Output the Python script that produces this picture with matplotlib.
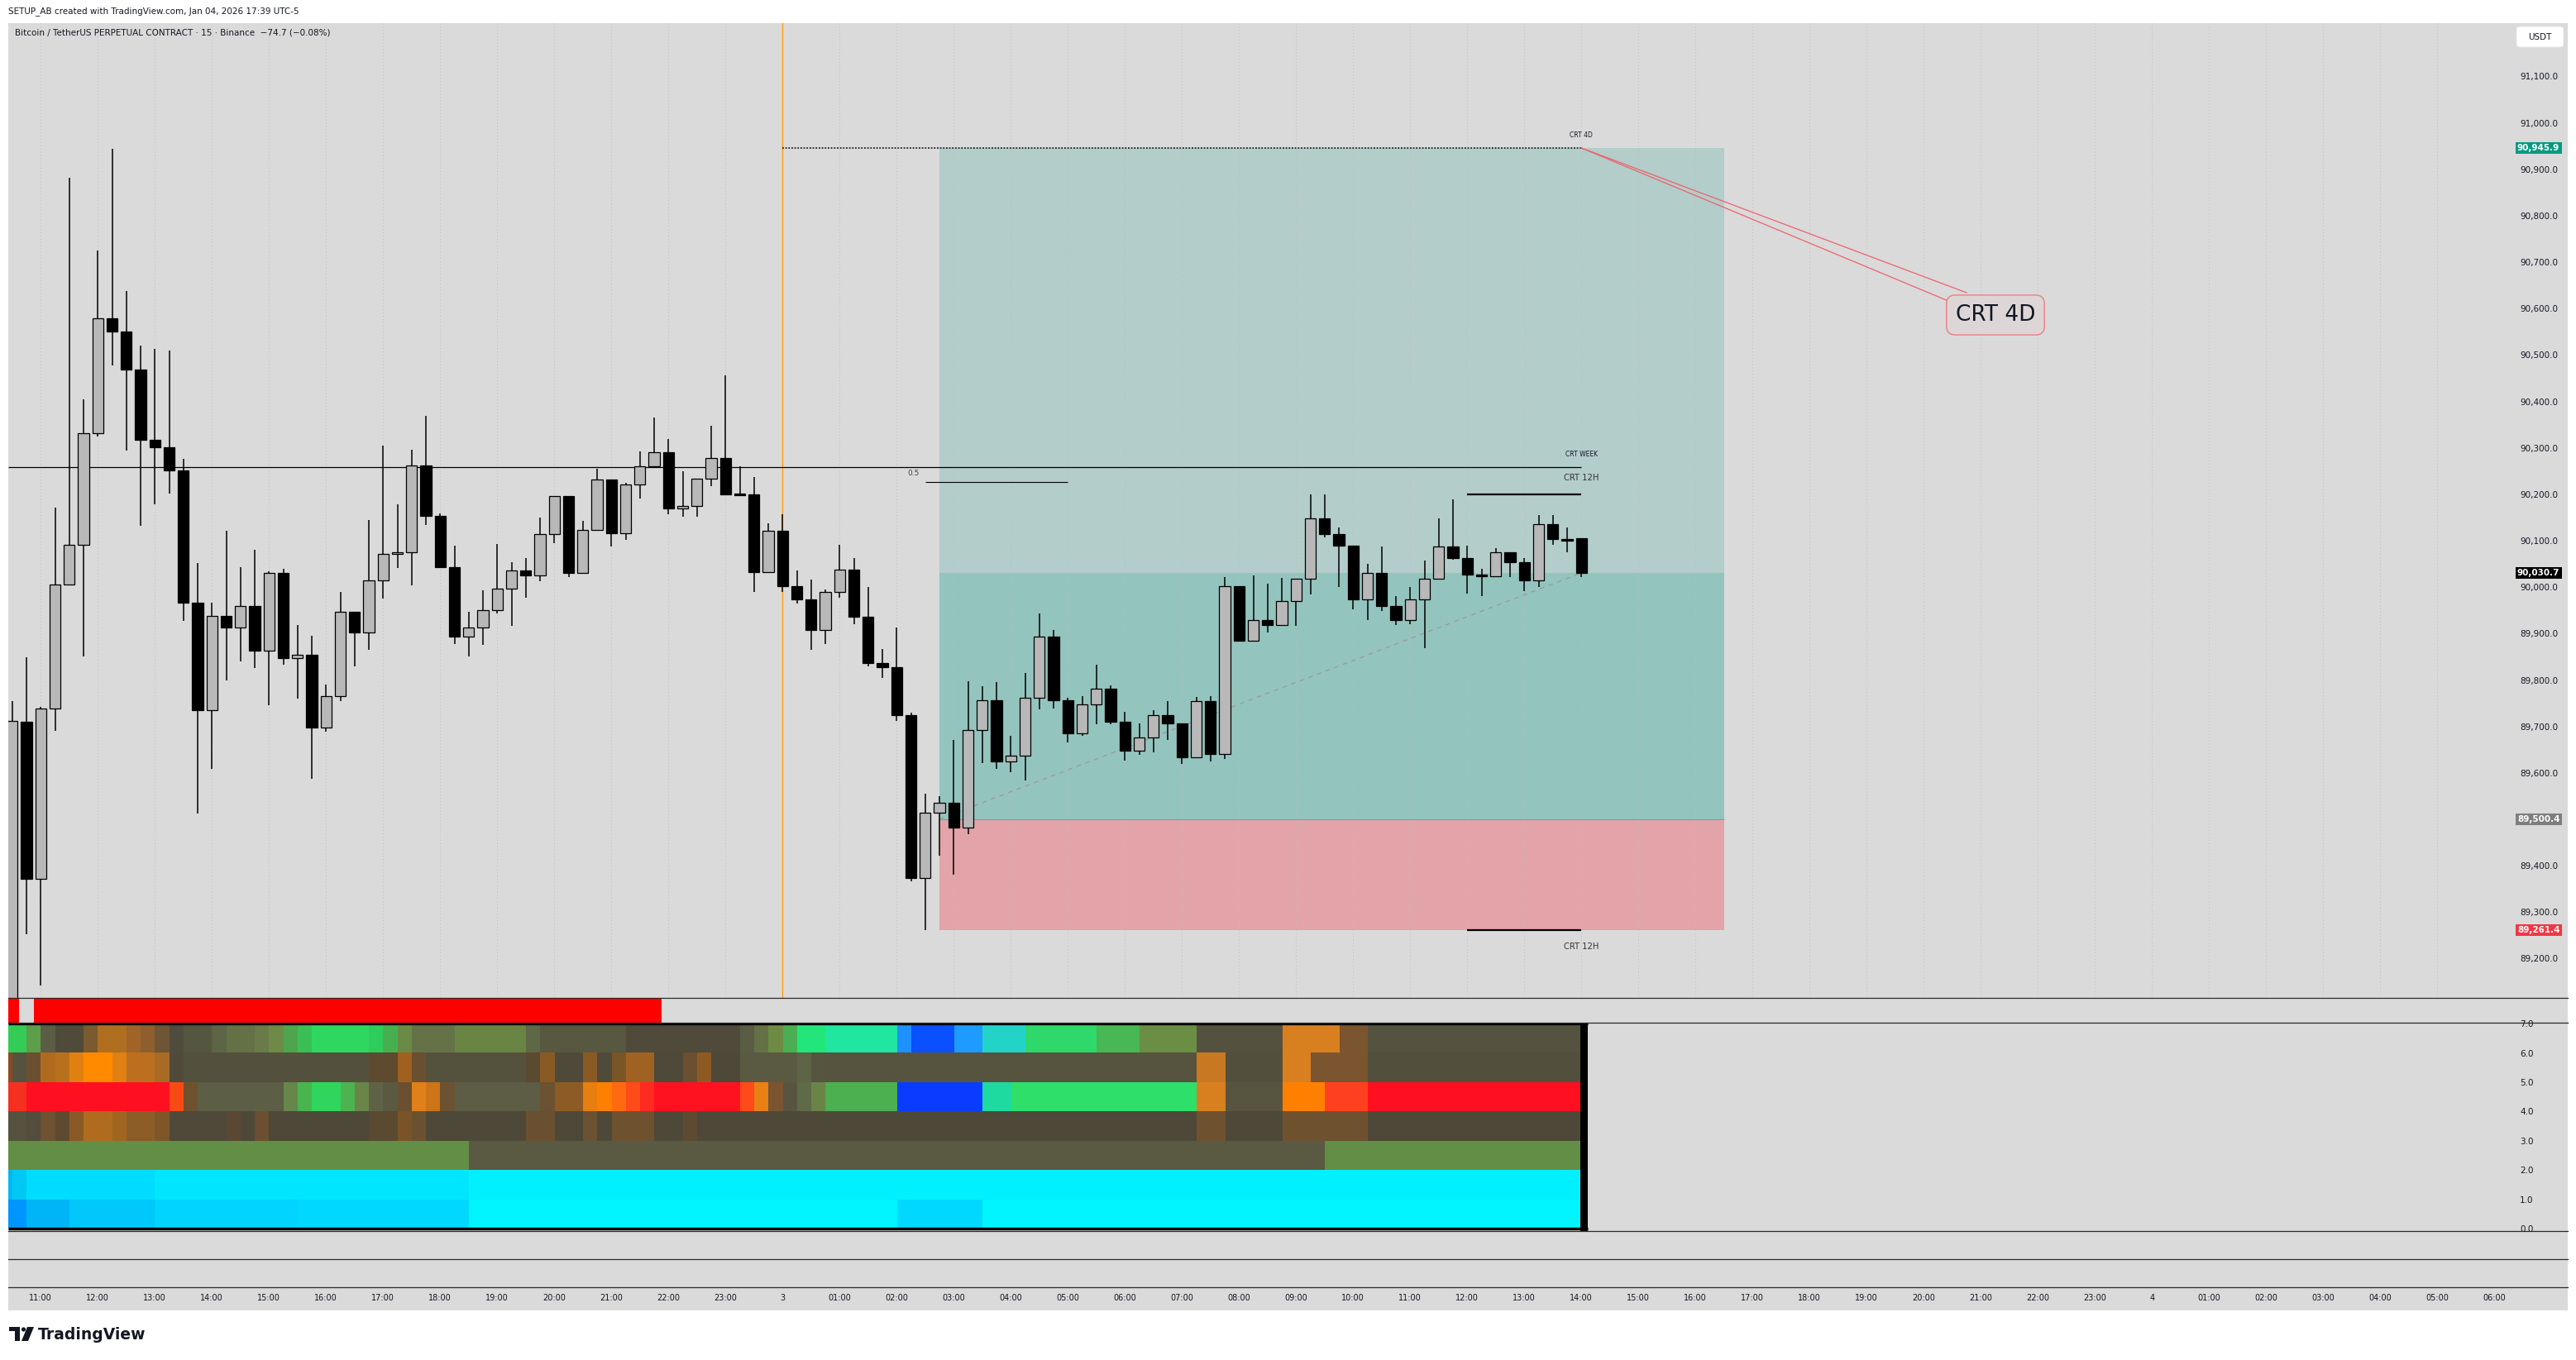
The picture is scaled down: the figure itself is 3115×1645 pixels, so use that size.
import numpy as np
import pandas as pd
import matplotlib
matplotlib.use("Agg")
import matplotlib.pyplot as plt
from matplotlib.patches import Rectangle, Polygon, Circle, FancyBboxPatch
from matplotlib.transforms import blended_transform_factory
from matplotlib.colors import to_rgb

plt.rcParams['font.family'] = ['DejaVu Sans']

# ---------------------------------------------------------------- data
bar_start = "2026-01-02 10:30"
bar_end = "2026-01-03 14:00"

opens = [89100, 89710, 89371, 89738, 90005, 90091, 90332, 90579, 90550, 90468,
         90318, 90301, 90252, 89967, 89735, 89938, 89913, 89959, 89864, 90031,
         89848, 89855, 89698, 89766, 89947, 89902, 90015, 90071, 90076, 90262,
         90154, 90044, 89894, 89914, 89950, 89996, 90036, 90025, 90114, 90196,
         90031, 90123, 90231, 90117, 90221, 90260, 90290, 90170, 90174, 90233,
         90279, 90201, 90199, 90033, 90121, 90003, 89974, 89907, 89989, 90037,
         89937, 89836, 89827, 89725, 89374, 89515, 89535, 89483, 89693, 89756,
         89624, 89638, 89761, 89893, 89756, 89686, 89747, 89781, 89711, 89648,
         89676, 89724, 89706, 89633, 89754, 89640, 90002, 89885, 89929, 89919,
         89971, 90018, 90148, 90115, 90090, 89974, 90030, 89959, 89930, 89973,
         90019, 90087, 90063, 90027, 90023, 90075, 90053, 90014, 90135, 90103,
         90105]
highs = [89754, 89849, 89742, 90171, 90882, 90405, 90725, 90944, 90638, 90521,
         90514, 90510, 90276, 90052, 89966, 90121, 90044, 90081, 90035, 90040,
         89919, 89896, 89790, 89990, 89947, 90145, 90304, 90178, 90296, 90369,
         90158, 90090, 89947, 89993, 90093, 90054, 90063, 90150, 90196, 90196,
         90143, 90255, 90231, 90225, 90293, 90366, 90319, 90250, 90233, 90348,
         90456, 90260, 90237, 90138, 90157, 90036, 90016, 89995, 90091, 90063,
         90001, 89867, 89913, 89729, 89555, 89550, 89671, 89798, 89787, 89796,
         89680, 89815, 89943, 89908, 89761, 89766, 89833, 89789, 89731, 89706,
         89735, 89755, 89706, 89763, 89765, 90022, 90002, 90025, 90008, 90020,
         90019, 90199, 90199, 90128, 90090, 90050, 90088, 89980, 90000, 90057,
         90148, 90189, 90090, 90040, 90084, 90075, 90062, 90155, 90155, 90128,
         90105]
lows = [89050, 89253, 89143, 89690, 90005, 89851, 90324, 90477, 90294, 90132,
        90178, 90202, 89928, 89512, 89608, 89799, 89841, 89826, 89746, 89833,
        89760, 89588, 89688, 89755, 89829, 89865, 89976, 90041, 90004, 90134,
        90044, 89878, 89850, 89875, 89944, 89916, 89978, 90012, 90094, 90022,
        90031, 90123, 90087, 90101, 90191, 90260, 90157, 90151, 90151, 90217,
        90199, 90199, 89990, 90033, 89990, 89964, 89865, 89877, 89977, 89920,
        89830, 89804, 89712, 89366, 89261.4, 89421, 89380, 89468, 89622, 89609,
        89601, 89583, 89736, 89738, 89665, 89680, 89704, 89704, 89627, 89639,
        89645, 89671, 89620, 89633, 89625, 89630, 89882, 89885, 89903, 89919,
        89916, 89985, 90107, 90001, 89953, 89930, 89949, 89919, 89921, 89868,
        90019, 90059, 89987, 89981, 90023, 90021, 89992, 90001, 90092, 90076,
        90021]
closes = [89712, 89371, 89738, 90005, 90091, 90332, 90579, 90550, 90468, 90318,
          90301, 90252, 89967, 89735, 89938, 89913, 89959, 89864, 90031, 89848,
          89855, 89698, 89766, 89947, 89902, 90015, 90071, 90076, 90262, 90154,
          90044, 89894, 89914, 89950, 89996, 90036, 90025, 90114, 90196, 90031,
          90123, 90231, 90117, 90221, 90260, 90290, 90170, 90174, 90233, 90279,
          90199, 90199, 90033, 90121, 90003, 89974, 89907, 89989, 90037, 89937,
          89836, 89827, 89725, 89374, 89515, 89535, 89483, 89693, 89756, 89624,
          89638, 89761, 89893, 89756, 89686, 89747, 89781, 89711, 89648, 89676,
          89724, 89706, 89633, 89754, 89640, 90002, 89885, 89929, 89919, 89971,
          90018, 90148, 90115, 90090, 89974, 90030, 89959, 89930, 89973, 90019,
          90087, 90063, 90027, 90023, 90075, 90053, 90014, 90135, 90103, 90102,
          90030.7]

target_price = 90945.9
entry_price = 89500.4
stop_price = 89261.4
last_price = 90030.7
crt_week_price = 90258.0
half_level_price = 90226.0
crt12h_high = 90200.4
crt12h_low = 89261.4

position_start_h = 2.75     # 02:45 Jan 3
position_end_h = 16.5       # 16:30 Jan 3
crt_start_h = 12.0
crt_end_h = 14.0
half_start_h = 2.5
half_end_h = 5.0

price_ticks = [89200, 89300, 89400, 89500, 89600, 89700, 89800, 89900, 90000, 90100,
               90200, 90300, 90400, 90500, 90600, 90700, 90800, 90900, 91000, 91100]
heat_ticks = [0, 1, 2, 3, 4, 5, 6, 7]

time_tick_hours = [-13, -12, -11, -10, -9, -8, -7, -6, -5, -4, -3, -2, -1, 0,
                   1, 2, 3, 4, 5, 6, 7, 8, 9, 10, 11, 12, 13, 14, 15, 16, 17, 18, 19, 20, 21, 22, 23, 24,
                   25, 26, 27, 28, 29, 30]
time_tick_labels = ["11:00", "12:00", "13:00", "14:00", "15:00", "16:00", "17:00", "18:00", "19:00",
                    "20:00", "21:00", "22:00", "23:00", "3",
                    "01:00", "02:00", "03:00", "04:00", "05:00", "06:00", "07:00", "08:00", "09:00",
                    "10:00", "11:00", "12:00", "13:00", "14:00", "15:00", "16:00", "17:00", "18:00",
                    "19:00", "20:00", "21:00", "22:00", "23:00", "4",
                    "01:00", "02:00", "03:00", "04:00", "05:00", "06:00"]

# indicator pane with the red bar (run-length: count, colour)
red_runs = [(1, "#FF0000"), (1, None), (44, "#FF0000"), (65, None)]

# heatmap rows, top (level 6-7) to bottom (level 0-1), run-length encoded
heat_row6 = [(2, "#33CC55"), (1, "#5C9E4A"), (1, "#5B5E45"), (2, "#4F4A3A"), (1, "#7A5A2F"),
             (2, "#B06E20"), (1, "#A06428"), (1, "#8E5E2E"), (1, "#6E5535"), (1, "#4F4C3E"),
             (2, "#55563F"), (1, "#5E6446"), (2, "#647046"), (1, "#6A7A48"), (1, "#6E8A48"),
             (1, "#4DA64E"), (1, "#3BBF55"), (4, "#2ED85F"), (1, "#2ECC5A"), (1, "#48AF50"),
             (1, "#6B8A45"), (3, "#657247"), (5, "#6A8444"), (1, "#5E6746"), (6, "#57583F"),
             (8, "#4F4A39"), (1, "#5A5C44"), (1, "#647046"), (1, "#6E8B45"), (1, "#4CAE52"),
             (2, "#22E67A"), (5, "#20E6A0"), (1, "#1E90FF"), (3, "#0A50FF"), (2, "#1E9BFF"),
             (3, "#22D4C8"), (5, "#2ED86A"), (3, "#48B854"), (4, "#6B8E45"), (6, "#55513F"),
             (4, "#D88020"), (2, "#7A5530"), (15, "#55533F")]
heat_row5 = [(1, "#8A4A20"), (1, "#55523F"), (1, "#6B5030"), (1, "#B06A1E"), (1, "#B8701C"),
             (1, "#E08010"), (2, "#FF8A00"), (1, "#E07F12"), (2, "#BC6F1F"), (1, "#A86A25"),
             (1, "#4F4A3A"), (13, "#53503D"), (2, "#5D4A2F"), (1, "#A0601E"), (1, "#6A5030"),
             (7, "#54513D"), (1, "#5A4A30"), (1, "#8A5A25"), (2, "#4F4939"), (1, "#8A5A25"),
             (1, "#4F4A3A"), (1, "#7A5528"), (2, "#A06222"), (2, "#4F4939"), (1, "#6A5030"),
             (1, "#8E5A24"), (2, "#4E4838"), (4, "#5A5A42"), (1, "#5E6446"), (1, "#555540"),
             (26, "#56543F"), (2, "#C87820"), (4, "#52503D"), (2, "#D88020"), (4, "#7A5530"),
             (15, "#52503D")]
heat_row4 = [(2, "#F53020"), (10, "#FF1020"), (1, "#F84A14"), (1, "#6E5230"), (6, "#5C5E45"),
             (1, "#66864A"), (1, "#48B54F"), (2, "#30D55D"), (1, "#4CB34F"), (1, "#6A8548"),
             (1, "#5E6346"), (1, "#5A5A42"), (1, "#6A5030"), (1, "#E08018"), (1, "#CC7416"),
             (1, "#6A5232"), (6, "#5C5D44"), (1, "#6A5232"), (2, "#8C5B26"), (1, "#E67E10"),
             (1, "#FF8000"), (1, "#FF6A10"), (1, "#FF4A1A"), (1, "#FF2A20"), (6, "#FF1220"),
             (1, "#FF4A1A"), (1, "#E88014"), (1, "#7A5530"), (1, "#57553F"), (1, "#5F6A47"),
             (1, "#6A8447"), (5, "#4CAF50"), (6, "#0A3CFF"), (2, "#1ED9A0"), (13, "#2EE06A"),
             (2, "#D88020"), (4, "#57553F"), (3, "#FF8000"), (3, "#FF4020"), (15, "#FF1020")]
heat_row3 = [(2, "#55523F"), (1, "#524D3C"), (1, "#6E5232"), (1, "#5E4A30"), (1, "#8A5A26"),
             (2, "#B06C1E"), (1, "#A0661F"), (2, "#8C5D27"), (1, "#7E5628"), (4, "#4F4939"),
             (1, "#5A4834"), (1, "#4E4838"), (1, "#6A5030"), (7, "#4D4838"), (2, "#5A4A32"),
             (1, "#7A5428"), (1, "#6A5230"), (7, "#4E4838"), (2, "#6A5030"), (2, "#4E4838"),
             (1, "#6A5232"), (1, "#4E4838"), (3, "#6E5230"), (2, "#4E4838"), (1, "#5E4A30"),
             (9, "#4E4838"), (26, "#4E4838"), (2, "#6E5230"), (4, "#4E4838"), (6, "#6E5230"),
             (15, "#4E4838")]
heat_row2 = [(33, "#628E45"), (60, "#5A5A42"), (18, "#628E45")]
heat_row1 = [(1, "#00B8F0"), (1, "#00C8F5"), (9, "#00DCFF"), (22, "#00E6FF"), (78, "#00F0FF")]
heat_row0 = [(2, "#0096FF"), (3, "#00B4F8"), (6, "#00C8FA"), (10, "#00D4FF"), (12, "#00D8FF"),
             (30, "#00F5FF"), (6, "#00D8FF"), (42, "#00F5FF")]

# ---------------------------------------------------------------- layout
W, H = 3115, 1645
fig = plt.figure(figsize=(W / 100, H / 100), dpi=100)
fig.patch.set_facecolor("white")
BG = "#DADADA"
TXT = "#131722"


def rect(x0, y0, x1, y1):
    return [x0 / W, 1 - y1 / H, (x1 - x0) / W, (y1 - y0) / H]


PX_T0, PX_PER_H = 946.3, 69.0          # pixel x of 00:00 Jan 3, pixels per hour
PY_TARGET, PX_PER_PRICE = 179.0, 0.5616


def t_of_px(x):
    return (x - PX_T0) / PX_PER_H


def p_of_py(y):
    return target_price - (y - PY_TARGET) / PX_PER_PRICE


L, R, RA = 10, 2987, 3105
TOP, MAIN_B = 28, 1207

bars = pd.date_range(bar_start, bar_end, freq="15min")
t = ((bars - pd.Timestamp("2026-01-03")) / pd.Timedelta(hours=1)).to_numpy()


def expand(runs):
    out = []
    for n, c in runs:
        out += [c] * n
    return out


# background canvas
bg = fig.add_axes([0, 0, 1, 1], zorder=-10)
bg.set_xlim(0, W)
bg.set_ylim(H, 0)
bg.axis("off")
bg.add_patch(Rectangle((L, TOP), RA - L, 1585 - TOP, fc=BG, ec="none"))
bg.text(10, 14, "SETUP_AB created with TradingView.com, Jan 04, 2026 17:39 UTC-5",
        fontsize=7.5, color=TXT, va="center", ha="left")

# ---------------------------------------------------------------- main pane
ax = fig.add_axes(rect(L, TOP, R, MAIN_B))
ax.set_facecolor("none")
for s in ax.spines.values():
    s.set_visible(False)
XL = (t_of_px(L), t_of_px(R))
ax.set_xlim(*XL)
ax.set_ylim(p_of_py(MAIN_B), p_of_py(TOP))

# hour grid
hour_lines = [h for h in time_tick_hours if XL[0] < h < XL[1]]
ax.vlines(hour_lines, p_of_py(MAIN_B), p_of_py(TOP), colors="#BDBDBD",
          linestyles=(0, (1, 3)), lw=0.7, zorder=1.5)

# long position tool
w_pos = position_end_h - position_start_h
ax.add_patch(Rectangle((position_start_h, entry_price), w_pos, target_price - entry_price,
                       fc="#B3CDCA", ec="none", zorder=1))
ax.add_patch(Rectangle((position_start_h, entry_price), w_pos, last_price - entry_price,
                       fc="#94C4BE", ec="none", zorder=1.1))
ax.add_patch(Rectangle((position_start_h, stop_price), w_pos, entry_price - stop_price,
                       fc="#E2A4A9", ec="none", zorder=1))
ax.hlines(entry_price, position_start_h, position_end_h, colors="#8C9A98", lw=0.8, zorder=1.2)
ax.plot([position_start_h, t[-1]], [entry_price, last_price], color="#9C9C9C",
        lw=1.0, ls=(0, (4, 4)), zorder=3)

# session line
ax.axvline(0, color="#FF9800", lw=0.9, zorder=2)

# levels
ax.hlines(target_price, 0, t[-1], colors="black", linestyles=(0, (1.2, 1.2)), lw=1.1, zorder=3)
ax.hlines(crt_week_price, XL[0], t[-1], colors="black", lw=0.9, zorder=3)
ax.hlines(half_level_price, half_start_h, half_end_h, colors="black", lw=0.8, zorder=3)
ax.hlines([crt12h_high, crt12h_low], crt_start_h, crt_end_h, colors="black", lw=1.6, zorder=3)

ax.text(t[-1], p_of_py(164), "CRT 4D", fontsize=5.5, ha="center", va="center", color=TXT)
ax.text(t[-1], p_of_py(549), "CRT WEEK", fontsize=5.5, ha="center", va="center", color=TXT)
ax.text(t[-1], p_of_py(578), "CRT 12H", fontsize=7.2, ha="center", va="center", color="#333333")
ax.text(t[-1], p_of_py(1145), "CRT 12H", fontsize=7.2, ha="center", va="center", color="#333333")
ax.text(t_of_px(1105), p_of_py(572), "0.5", fontsize=6.5, ha="center", va="center", color="#444444")

# callout
ax.plot([t[-1], t_of_px(2356)], [target_price, p_of_py(364)], color="#F0606A", lw=0.9, zorder=3)
ax.plot([t[-1], t_of_px(2378)], [target_price, p_of_py(354)], color="#F0606A", lw=0.9, zorder=3)
ax.text(t_of_px(2413), p_of_py(381), "CRT 4D", fontsize=19, ha="center", va="center", color=TXT,
        zorder=6, bbox=dict(boxstyle="round,pad=0.42,rounding_size=0.4", fc="#DCD6D6", ec="#EE7E84", lw=1.0))

# candles
o = np.array(opens, float)
c = np.array(closes, float)
hgt = c - o
hgt = np.where(np.abs(hgt) < 3, np.where(hgt >= 0, 3, -3), hgt)
body_col = ["#B8B8B8" if cc > oo else "#000000" for oo, cc in zip(opens, closes)]
ax.vlines(t, lows, highs, colors="black", lw=1.1, zorder=4)
ax.bar(t, hgt, bottom=o, width=0.19, color=body_col, edgecolor="black", linewidth=0.9, zorder=5)

ax.set_xticks([])
ax.yaxis.tick_right()
ax.set_yticks(price_ticks)
ax.set_yticklabels([f"{v:,.1f}" for v in price_ticks])
ax.tick_params(axis="y", length=0, pad=(3047 - R) * 0.72, labelsize=7.5, labelcolor=TXT)

ax.text((18 - L) / (R - L), 1 - (40 - TOP) / (MAIN_B - TOP),
        "Bitcoin / TetherUS PERPETUAL CONTRACT \u00b7 15 \u00b7 Binance  \u221274.7 (\u22120.08%)",
        transform=ax.transAxes, fontsize=7.5, color=TXT, va="center", ha="left")

# price badges
btr = blended_transform_factory(ax.transAxes, ax.transData)
bx = (3044 - L) / (R - L)
for val, col in [(target_price, "#089981"), (last_price, "#000000"),
                 (entry_price, "#7E7E7E"), (stop_price, "#F23645")]:
    ax.text(bx, val, f"{val:,.1f}", transform=btr, ha="left", va="center", fontsize=7.5,
            fontweight="bold", color="white", clip_on=False, zorder=10,
            bbox=dict(boxstyle="square,pad=0.22", fc=col, ec="none"))

# ---------------------------------------------------------------- red bar pane
ax2 = fig.add_axes(rect(L, MAIN_B, R, 1237))
ax2.set_facecolor("none")
ax2.axis("off")
ax2.set_xlim(*XL)
ax2.set_ylim(0, 1)
red_cols = expand(red_runs)
for ti, col in zip(t, red_cols):
    if col is not None:
        ax2.bar(ti, 1, width=0.25, bottom=0, color=col, linewidth=0)

# ---------------------------------------------------------------- heatmap pane
ax3 = fig.add_axes(rect(L, 1237, R, 1489))
ax3.set_facecolor("none")
for s in ax3.spines.values():
    s.set_visible(False)
rows = [heat_row6, heat_row5, heat_row4, heat_row3, heat_row2, heat_row1, heat_row0]
img = np.array([[to_rgb(col) for col in expand(r)] for r in rows])
ax3.imshow(img, extent=[t[0] - 0.25, t[-1], 0, 7], origin="upper", aspect="auto",
           interpolation="nearest", zorder=1)
ax3.add_patch(Rectangle((t[-1] - 0.02, -0.1), 0.13, 7.2, fc="black", ec="none", zorder=2))
ax3.hlines([0, 7], XL[0], t[-1] + 0.11, colors="black", lw=2.4, zorder=2)
ax3.set_xlim(*XL)
ax3.set_ylim(-0.085, 7.037)
ax3.set_xticks([])
ax3.yaxis.tick_right()
ax3.set_yticks(heat_ticks)
ax3.set_yticklabels([f"{v:.1f}" for v in heat_ticks])
ax3.tick_params(axis="y", length=0, pad=(3047 - R) * 0.72, labelsize=7.5, labelcolor=TXT)

# ---------------------------------------------------------------- time axis
axt = fig.add_axes(rect(L, 1557, RA, 1585))
axt.set_facecolor("none")
for s in axt.spines.values():
    s.set_visible(False)
axt.set_xlim(t_of_px(L), t_of_px(RA))
axt.set_yticks([])
axt.set_xticks(time_tick_hours)
axt.set_xticklabels(time_tick_labels)
axt.tick_params(axis="x", length=0, pad=-14.5, labelsize=7, labelcolor=TXT)

# ---------------------------------------------------------------- overlay (separators, logo, USDT)
ov = fig.add_axes([0, 0, 1, 1], zorder=20)
ov.set_facecolor("none")
ov.set_xlim(0, W)
ov.set_ylim(H, 0)
ov.axis("off")
for yy in [1207, 1237, 1489, 1523, 1557]:
    ov.plot([L, RA], [yy, yy], color="#2A2A2A", lw=0.9)
ov.add_patch(FancyBboxPatch((3043, 32), 57, 25, boxstyle="round,pad=0,rounding_size=4",
                            fc="white", ec="#E4E4E4", lw=0.6))
ov.text(3071.5, 44.5, "USDT", fontsize=7.5, ha="center", va="center", color=TXT)

# TradingView logo
ov.add_patch(Polygon([(11, 1605), (24, 1605), (24, 1622), (18, 1622), (18, 1610), (11, 1610)],
                     closed=True, fc="#131722", ec="none"))
ov.add_patch(Circle((28.5, 1608), 2.6, fc="#131722", ec="none"))
ov.add_patch(Polygon([(33, 1605), (41, 1605), (34, 1622), (26, 1622)], closed=True,
                     fc="#131722", ec="none"))
ov.text(46, 1614, "TradingView", fontsize=13.5, fontweight="bold", ha="left", va="center",
        color="#131722")

fig.savefig("out.png", dpi=100, facecolor="white")
